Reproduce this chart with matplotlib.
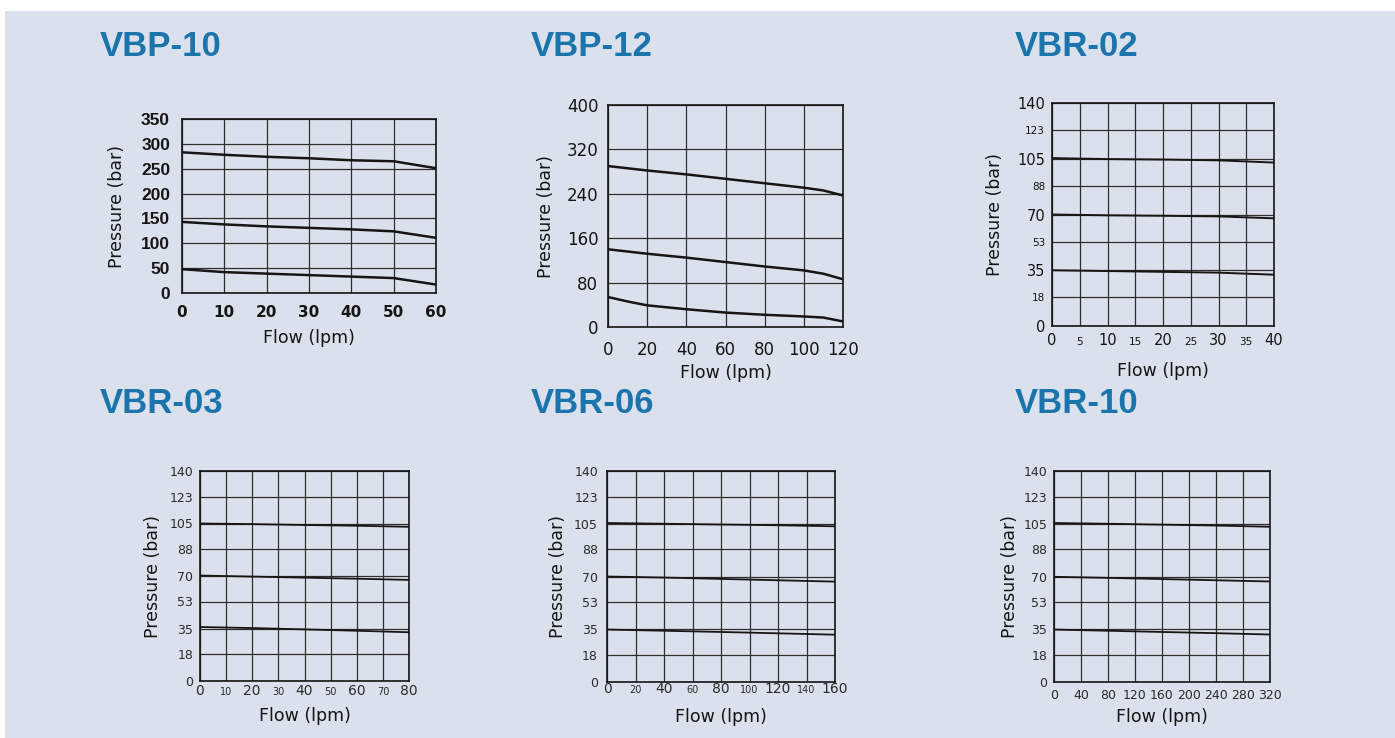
import matplotlib
matplotlib.use("Agg")
import matplotlib.pyplot as plt
from matplotlib.patches import Rectangle

W, H = 1395, 738

# ---- data ----
vbp10_flow = [0, 10, 20, 30, 40, 50, 60]
vbp10_high = [283, 278, 274, 271, 267, 265, 251]
vbp10_mid = [143, 138, 134, 131, 128, 124, 111]
vbp10_low = [48, 42, 39, 36, 33, 30, 17]

vbp12_flow = [0, 10, 20, 40, 60, 80, 100, 110, 120]
vbp12_high = [290, 286, 282, 275, 267, 259, 251, 246, 237]
vbp12_mid = [140, 136, 132, 125, 117, 109, 102, 96, 86]
vbp12_low = [54, 46, 39, 32, 26, 22, 19, 17, 10]

vbr02_flow = [0, 10, 20, 30, 40]
vbr02_high = [105.4, 104.8, 104.5, 104.0, 102.6]
vbr02_mid = [70.0, 69.5, 69.2, 68.8, 67.6]
vbr02_low = [35.0, 34.5, 34.0, 33.5, 32.2]

vbr03_flow = [0, 20, 40, 60, 80]
vbr03_high = [105.0, 104.6, 104.0, 103.5, 102.8]
vbr03_mid = [70.3, 69.6, 68.9, 68.2, 67.4]
vbr03_low = [36.0, 35.3, 34.4, 33.5, 32.5]

vbr06_flow = [0, 40, 80, 120, 160]
vbr06_high = [105.5, 105.0, 104.5, 104.0, 103.3]
vbr06_mid = [70.0, 69.3, 68.4, 67.5, 66.6]
vbr06_low = [34.8, 34.0, 33.2, 32.3, 31.4]

vbr10_flow = [0, 80, 160, 240, 320]
vbr10_high = [105.5, 105.0, 104.4, 103.8, 103.0]
vbr10_mid = [69.8, 69.1, 68.3, 67.5, 66.7]
vbr10_low = [34.8, 34.0, 33.2, 32.4, 31.5]

vbr_yticks = [0, 18, 35, 53, 70, 88, 105, 123, 140]

bg = '#dbe1ec'
title_col = '#1b74ac'
ink = '#151515'

fig = plt.figure(figsize=(W / 100, H / 100), dpi=100, facecolor='white')
fig.patches.append(Rectangle((5 / W, 0), 1 - 5 / W, 1 - 11 / H, transform=fig.transFigure,
                             facecolor=bg, edgecolor='none', zorder=-10))


def fx(x):
    return x / W


def fy(y):
    return 1 - y / H


def make_panel(box, title, title_xy, xlim, xticks, yticks, xsizes, ysizes,
               xpad, ypad, xva, ylab_x, xlab_y, series, flow, lw, bold_x=False,
               bold_y=False, tick_col=ink):
    l, t, r, b = box
    ax = fig.add_axes([fx(l), fy(b), fx(r - l), (b - t) / H])
    ax.set_facecolor(bg)
    ax.set_xlim(*xlim)
    ax.set_ylim(yticks[0], yticks[-1])
    ax.set_xticks(xticks, [str(v) for v in xticks])
    ax.set_yticks(yticks, [str(v) for v in yticks])
    ax.tick_params(length=0)
    ax.tick_params(axis='x', pad=xpad)
    ax.tick_params(axis='y', pad=ypad)
    for lab, s in zip(ax.get_xticklabels(), xsizes):
        lab.set_fontsize(s)
        lab.set_color(tick_col)
        lab.set_va(xva)
        if bold_x:
            lab.set_fontweight('bold')
    for lab, s in zip(ax.get_yticklabels(), ysizes):
        lab.set_fontsize(s)
        lab.set_color(tick_col)
        if bold_y:
            lab.set_fontweight('bold')
            lab.set_family('Liberation Sans')
    ax.grid(True, color='#2e2e2e', lw=0.9)
    for sp in ax.spines.values():
        sp.set_color(ink)
        sp.set_linewidth(1.2)
    for ys in series:
        ax.plot(flow, ys, color=ink, lw=lw, solid_capstyle='butt', clip_on=False, zorder=3)
    fig.text(fx(ylab_x), fy((t + b) / 2), 'Pressure (bar)', rotation=90, ha='center',
             va='center', fontsize=12.5, color=ink)
    fig.text(fx((l + r) / 2), fy(xlab_y), 'Flow (lpm)', ha='center', va='center',
             fontsize=12.5, color=ink)
    fig.text(fx(title_xy[0]), fy(title_xy[1]), title, family='Liberation Sans',
             fontweight='bold', fontsize=25, color=title_col, va='baseline')
    return ax


make_panel((182, 119, 436, 293), 'VBP-10', (100, 56), (0, 60),
           vbp10_flow, [0, 50, 100, 150, 200, 250, 300, 350],
           [11] * 7, [12.5] * 8, 8.6, 8.6, 'top', 117, 338,
           [vbp10_high, vbp10_mid, vbp10_low], vbp10_flow, 1.8, bold_x=True, bold_y=True)

make_panel((608, 105, 843, 327), 'VBP-12', (531, 56), (0, 120),
           [0, 20, 40, 60, 80, 100, 120], [0, 80, 160, 240, 320, 400],
           [12] * 7, [12] * 6, 10, 7, 'top', 546, 373,
           [vbp12_high, vbp12_mid, vbp12_low], vbp12_flow, 1.8)

make_panel((1052, 103, 1274, 326), 'VBR-02', (1015, 56), (0, 40),
           [0, 5, 10, 15, 20, 25, 30, 35, 40], vbr_yticks,
           [10.5, 7.5] * 4 + [10.5], [10.5, 7.5] * 4 + [10.5], 13.5, 5, 'baseline', 995, 371,
           [vbr02_high, vbr02_mid, vbr02_low], vbr02_flow, 1.4)

make_panel((200, 471, 409, 681), 'VBR-03', (100, 413), (0, 80),
           [0, 10, 20, 30, 40, 50, 60, 70, 80], vbr_yticks,
           [10, 7] * 4 + [10], [9] * 9, 10, 5, 'baseline', 153, 716,
           [vbr03_high, vbr03_mid, vbr03_low], vbr03_flow, 1.3, tick_col='#2a2a2a')

make_panel((607, 471, 835, 682), 'VBR-06', (531, 413), (0, 160),
           [0, 20, 40, 60, 80, 100, 120, 140, 160], vbr_yticks,
           [10, 7] * 4 + [10], [9] * 9, 8, 6.5, 'baseline', 558, 717,
           [vbr06_high, vbr06_mid, vbr06_low], vbr06_flow, 1.3, tick_col='#2a2a2a')

make_panel((1054, 471, 1270, 682), 'VBR-10', (1015, 413), (0, 320),
           [0, 40, 80, 120, 160, 200, 240, 280, 320], vbr_yticks,
           [9] * 9, [9] * 9, 5, 5, 'top', 1010, 717,
           [vbr10_high, vbr10_mid, vbr10_low], vbr10_flow, 1.3, tick_col='#2a2a2a')

fig.savefig('out.png', dpi=100, facecolor=fig.get_facecolor())
